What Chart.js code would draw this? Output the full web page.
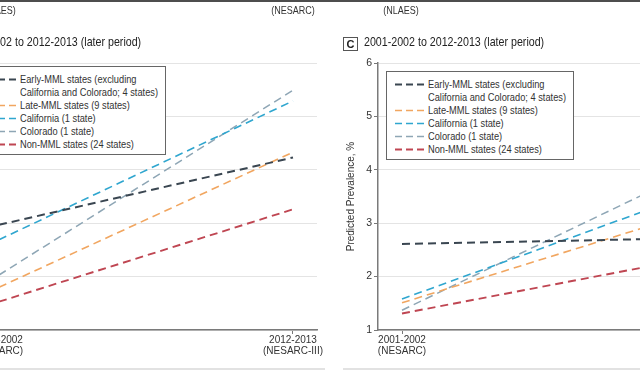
<!DOCTYPE html>
<html>
<head>
<meta charset="utf-8">
<script src="https://cdn.jsdelivr.net/npm/chart.js@4/dist/chart.umd.min.js"></script>
<style>
  html, body { margin:0; padding:0; background:#fff; }
  body { position:relative; width:640px; height:370px; overflow:hidden;
         font-family:"Liberation Sans",Arial,sans-serif; color:#2b2b2b; }
  canvas { position:absolute; top:0; }
  .abs { position:absolute; white-space:nowrap; }
  .toplab { font-size:11px; top:4px; transform:translateX(-50%) scaleX(0.82); transform-origin:center; color:#333; }
  .title { font-size:13px; top:34px; color:#222; transform:scaleX(0.82); transform-origin:left center; }
  .pbox { top:37px; width:13px; height:12px; border:1px solid #555; font-size:11px; font-weight:bold;
          text-align:center; line-height:12px; color:#222; }
  .legend { border:1px solid #666; background:#fff; width:186px; height:87px; }
  .lrow { position:absolute; left:0; height:14px; font-size:11.3px; line-height:14px; color:#333; }
  .lrow svg { position:absolute; left:8px; top:6px; }
  .lrow span { position:absolute; left:41px; top:0; transform:scaleX(0.82); transform-origin:left center; }
  .rule { position:absolute; }
</style>
</head>
<body>
<div class="rule" style="left:0;top:0;width:640px;height:2px;background:#4d4d4d"></div>
<div class="rule" style="left:0;top:368px;width:325px;height:2px;background:#e2e2e2"></div>
<div class="rule" style="left:343px;top:368px;width:297px;height:2px;background:#e2e2e2"></div>
<canvas id="cLeft" width="440" height="370" style="left:-103px;width:440px;height:370px"></canvas>
<canvas id="cRight" width="440" height="370" style="left:300px;width:440px;height:370px"></canvas>
<script>
// ---- data ----
const periodLabels = [["2001-2002", "(NESARC)"], ["2012-2013", "(NESARC-III)"]];
const upperPeriodLabels = ["(NLAES)", "(NESARC)"];
const panelTitle = "2001-2002 to 2012-2013 (later period)";
const panelLetters = ["B", "C"];
const yAxisTitle = "Predicted Prevalence, %";
const yTicks = [1, 2, 3, 4, 5, 6];
const seriesNames = [
  ["Early-MML states (excluding", "California and Colorado; 4 states)"],
  ["Late-MML states (9 states)"],
  ["California (1 state)"],
  ["Colorado (1 state)"],
  ["Non-MML states (24 states)"]
];
// left panel (partially visible)
const leftEarly      = [2.97, 4.23];
const leftLate       = [1.80, 4.33];
const leftCalifornia = [2.69, 5.29];
const leftColorado   = [2.03, 5.49];
const leftNonMML     = [1.53, 3.26];
// panel C
const rightEarly      = [2.61, 2.72];
const rightLate       = [1.51, 3.22];
const rightCalifornia = [1.58, 3.58];
const rightColorado   = [1.37, 4.01];
const rightNonMML     = [1.31, 2.36];

// ---- styles ----
const seriesColors = ["#3a4651", "#f1a660", "#2fa6cf", "#8ea6b5", "#bf4652"];
const seriesWidths = [2, 1.6, 1.6, 1.5, 1.9];
const FONT = '"Liberation Sans",Arial,sans-serif';
const xPad = 24 / 294;

function makePanel(id, seriesValues) {
  const ctx = document.getElementById(id).getContext("2d");
  return new Chart(ctx, {
    type: "line",
    data: {
      datasets: seriesValues.map((vals, i) => ({
        label: seriesNames[i].join(" "),
        data: vals.map((v, j) => ({ x: j, y: v })),
        borderColor: seriesColors[i],
        borderWidth: seriesWidths[i],
        borderDash: [8, 5],
        pointRadius: 0,
        fill: false,
        tension: 0
      }))
    },
    options: {
      responsive: false,
      animation: false,
      devicePixelRatio: 1,
      layout: { padding: { left: 40, right: 20, top: 63, bottom: 0 } },
      plugins: { legend: { display: false }, tooltip: { enabled: false } },
      scales: {
        x: {
          type: "linear",
          min: -xPad, max: 1 + xPad,
          afterBuildTicks: s => { s.ticks = periodLabels.map((_, i) => ({ value: i })); },
          afterFit: s => { s.height = 40; },
          ticks: {
            callback: v => periodLabels[v],
            color: "#333", padding: 1, maxRotation: 0, autoSkip: false,
            font: { family: FONT, size: 10, lineHeight: 1.1 }
          },
          grid: { drawOnChartArea: false, tickLength: 4, color: "#777", tickWidth: 1 },
          border: { color: "#7a7a7a", width: 1.5 }
        },
        y: {
          min: 1, max: 6,
          afterBuildTicks: s => { s.ticks = yTicks.map(v => ({ value: v })); },
          afterFit: s => { s.width = 38; },
          ticks: { color: "#333", padding: 2, font: { family: FONT, size: 10.5 } },
          grid: { color: "#e4e4e4", tickColor: "#777", tickLength: 4, lineWidth: 1 },
          border: { color: "#7a7a7a", width: 1.5 },
          title: { display: true, text: yAxisTitle, color: "#333", padding: { top: 5, bottom: 4 },
                   font: { family: FONT, size: 10 } }
        }
      }
    }
  });
}

makePanel("cLeft", [leftEarly, leftLate, leftCalifornia, leftColorado, leftNonMML]);
makePanel("cRight", [rightEarly, rightLate, rightCalifornia, rightColorado, rightNonMML]);

// ---- text overlays ----
function addDiv(cls, left, top, text) {
  const d = document.createElement("div");
  d.className = "abs " + cls;
  d.style.left = left + "px";
  if (top !== null) d.style.top = top + "px";
  d.textContent = text;
  document.body.appendChild(d);
  return d;
}
// upper panel tick labels (cut off)
addDiv("toplab", -2, null, upperPeriodLabels[0]);
addDiv("toplab", 293, null, upperPeriodLabels[1]);
addDiv("toplab", 401, null, upperPeriodLabels[0]);

function addPanelHeader(dx, letter) {
  addDiv("pbox", 343 + dx, null, letter);
  addDiv("title", 364 + dx, null, panelTitle);
}
addPanelHeader(-403, panelLetters[0]);
addPanelHeader(0, panelLetters[1]);

function addLegend(left, top) {
  const box = document.createElement("div");
  box.className = "abs legend";
  box.style.left = left + "px";
  box.style.top = top + "px";
  let row = 0;
  seriesNames.forEach((lines, i) => {
    lines.forEach((txt, k) => {
      const r = document.createElement("div");
      r.className = "lrow";
      r.style.top = (5 + 13 * row) + "px";
      r.style.width = "186px";
      if (k === 0) {
        const ns = "http://www.w3.org/2000/svg";
        const svg = document.createElementNS(ns, "svg");
        svg.setAttribute("width", "30"); svg.setAttribute("height", "3");
        const ln = document.createElementNS(ns, "line");
        ln.setAttribute("x1", "0"); ln.setAttribute("x2", "30");
        ln.setAttribute("y1", "1.5"); ln.setAttribute("y2", "1.5");
        ln.setAttribute("stroke", seriesColors[i]);
        ln.setAttribute("stroke-width", String(seriesWidths[i]));
        ln.setAttribute("stroke-dasharray", "7 4");
        svg.appendChild(ln);
        r.appendChild(svg);
      }
      const s = document.createElement("span");
      s.textContent = txt;
      r.appendChild(s);
      box.appendChild(r);
      row++;
    });
  });
  document.body.appendChild(box);
}
addLegend(-22, 66);
addLegend(386, 71);
</script>
</body>
</html>
